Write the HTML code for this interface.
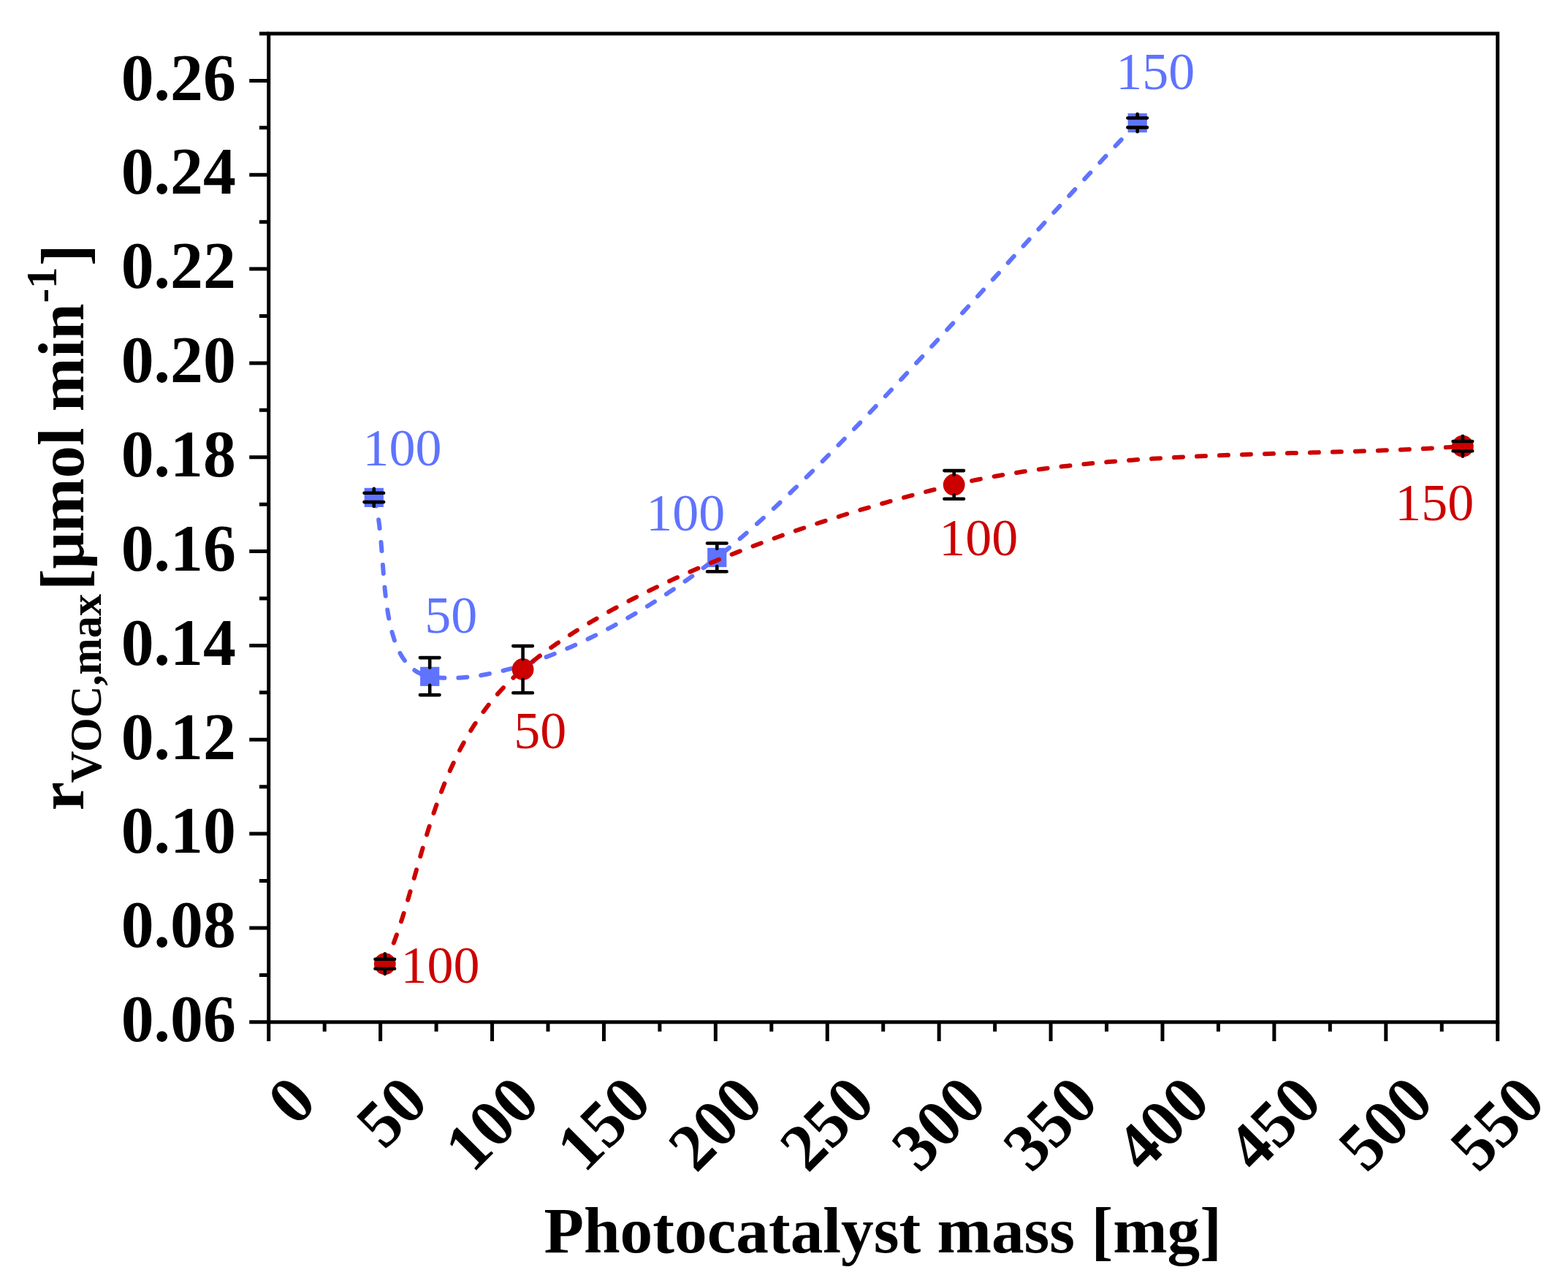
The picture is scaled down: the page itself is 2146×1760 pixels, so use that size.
<!DOCTYPE html><html><head><meta charset="utf-8"><style>html,body{margin:0;padding:0;background:#fff}svg{display:block}</style></head><body>
<svg width="2146" height="1760" viewBox="0 0 2146 1760">
<rect width="2146" height="1760" fill="#fff"/>
<path d="M511.80,680.90 L512.34,682.67 L512.85,684.48 L513.35,686.32 L513.84,688.20 L514.30,690.12 L514.75,692.07 L515.18,694.06 L515.60,696.07 L516.00,698.13 L516.39,700.21 L516.76,702.32 L517.12,704.46 L517.47,706.64 L517.80,708.84 L518.13,711.06 L518.44,713.32 L518.74,715.60 L519.03,717.90 L519.31,720.23 L519.59,722.58 L519.85,724.95 L520.11,727.34 L520.35,729.76 L520.59,732.19 L520.83,734.64 L521.06,737.11 L521.28,739.60 L521.50,742.10 L521.71,744.62 L521.92,747.15 L522.12,749.69 L522.33,752.25 L522.53,754.82 L522.72,757.40 L522.92,759.99 L523.12,762.59 L523.31,765.20 L523.51,767.82 L523.71,770.44 L523.91,773.07 L524.11,775.70 L524.31,778.34 L524.51,780.98 L524.72,783.62 L524.93,786.26 L525.15,788.91 L525.37,791.55 L525.60,794.20 L525.83,796.84 L526.07,799.48 L526.32,802.11 L526.57,804.74 L526.84,807.37 L527.11,809.99 L527.39,812.60 L527.68,815.20 L527.98,817.80 L528.29,820.38 L528.61,822.96 L528.94,825.52 L529.29,828.07 L529.65,830.61 L530.02,833.13 L530.40,835.64 L530.80,838.14 L531.22,840.61 L531.65,843.07 L532.09,845.51 L532.56,847.94 L533.04,850.34 L533.53,852.72 L534.05,855.08 L534.58,857.42 L535.13,859.73 L535.71,862.02 L536.30,864.29 L536.91,866.53 L537.55,868.74 L538.20,870.92 L538.88,873.08 L539.58,875.21 L540.30,877.30 L541.05,879.37 L541.82,881.40 L542.62,883.40 L543.44,885.37 L544.29,887.30 L545.16,889.20 L546.07,891.06 L546.99,892.88 L547.95,894.67 L548.94,896.42 L549.95,898.12 L550.99,899.79 L552.07,901.42 L553.17,903.00 L554.31,904.54 L555.47,906.04 L556.67,907.49 L557.90,908.90 L559.17,910.25 L560.47,911.57 L561.80,912.83 L563.17,914.05 L564.57,915.21 L566.01,916.33 L567.48,917.39 L568.99,918.40 L570.54,919.35 L572.13,920.26 L573.75,921.10 L575.42,921.90 L577.12,922.63 L578.86,923.31 L580.65,923.93 L582.47,924.49 L584.34,924.99 L586.25,925.42 L588.20,925.80" fill="none" stroke="#5f73ff" stroke-width="6" stroke-linecap="round" stroke-dasharray="12 19" stroke-dashoffset="0.00"/>
<path d="M588.20,925.80 L590.19,926.13 L592.21,926.44 L594.26,926.71 L596.34,926.96 L598.46,927.19 L600.60,927.38 L602.78,927.55 L604.98,927.69 L607.22,927.80 L609.48,927.89 L611.77,927.95 L614.10,927.98 L616.45,927.98 L618.83,927.96 L621.24,927.90 L623.68,927.82 L626.14,927.72 L628.64,927.58 L631.16,927.42 L633.71,927.23 L636.28,927.01 L638.88,926.76 L641.51,926.49 L644.17,926.18 L646.85,925.85 L649.56,925.49 L652.29,925.10 L655.05,924.69 L657.83,924.24 L660.64,923.77 L663.47,923.27 L666.33,922.74 L669.21,922.18 L672.12,921.60 L675.05,920.98 L678.00,920.34 L680.97,919.67 L683.97,918.97 L687.00,918.24 L690.04,917.48 L693.11,916.69 L696.19,915.87 L699.31,915.03 L702.44,914.16 L705.59,913.25 L708.76,912.32 L711.96,911.36 L715.18,910.37 L718.41,909.35 L721.67,908.30 L724.94,907.23 L728.24,906.12 L731.56,904.98 L734.89,903.82 L738.24,902.62 L741.62,901.40 L745.01,900.15 L748.42,898.86 L751.84,897.55 L755.29,896.21 L758.75,894.83 L762.23,893.43 L765.72,892.00 L769.24,890.54 L772.77,889.05 L776.31,887.53 L779.88,885.98 L783.45,884.39 L787.05,882.78 L790.66,881.14 L794.28,879.47 L797.92,877.77 L801.57,876.04 L805.24,874.28 L808.92,872.48 L812.62,870.66 L816.33,868.81 L820.05,866.93 L823.79,865.01 L827.53,863.07 L831.30,861.09 L835.07,859.09 L838.86,857.05 L842.66,854.98 L846.47,852.89 L850.29,850.76 L854.12,848.60 L857.96,846.41 L861.82,844.19 L865.68,841.94 L869.56,839.66 L873.45,837.34 L877.34,835.00 L881.25,832.62 L885.16,830.22 L889.09,827.78 L893.02,825.31 L896.96,822.81 L900.91,820.28 L904.87,817.71 L908.83,815.12 L912.81,812.49 L916.79,809.84 L920.78,807.15 L924.77,804.43 L928.77,801.67 L932.78,798.89 L936.80,796.08 L940.82,793.23 L944.84,790.35 L948.87,787.44 L952.91,784.50 L956.95,781.52 L961.00,778.51 L965.05,775.48 L969.11,772.40 L973.17,769.30 L977.23,766.17 L981.30,763.00" fill="none" stroke="#5f73ff" stroke-width="6" stroke-linecap="round" stroke-dasharray="12 19" stroke-dashoffset="270.71"/>
<path d="M981.30,763.00 L985.39,759.78 L989.51,756.49 L993.68,753.12 L997.87,749.69 L1002.11,746.19 L1006.38,742.61 L1010.68,738.98 L1015.01,735.27 L1019.38,731.50 L1023.78,727.67 L1028.22,723.77 L1032.68,719.81 L1037.18,715.80 L1041.70,711.72 L1046.25,707.58 L1050.83,703.39 L1055.44,699.14 L1060.08,694.83 L1064.74,690.47 L1069.43,686.06 L1074.15,681.60 L1078.88,677.08 L1083.65,672.52 L1088.43,667.91 L1093.24,663.25 L1098.07,658.54 L1102.93,653.79 L1107.80,648.99 L1112.69,644.15 L1117.61,639.27 L1122.54,634.35 L1127.49,629.38 L1132.46,624.38 L1137.45,619.34 L1142.45,614.27 L1147.47,609.15 L1152.50,604.01 L1157.55,598.83 L1162.61,593.62 L1167.68,588.37 L1172.77,583.10 L1177.87,577.80 L1182.98,572.47 L1188.10,567.11 L1193.23,561.73 L1198.38,556.32 L1203.53,550.89 L1208.68,545.43 L1213.85,539.96 L1219.02,534.46 L1224.20,528.95 L1229.39,523.42 L1234.58,517.87 L1239.77,512.30 L1244.97,506.72 L1250.17,501.12 L1255.38,495.52 L1260.58,489.90 L1265.79,484.27 L1271.00,478.63 L1276.21,472.98 L1281.41,467.32 L1286.62,461.66 L1291.83,456.00 L1297.03,450.32 L1302.23,444.65 L1307.42,438.98 L1312.61,433.30 L1317.80,427.62 L1322.98,421.95 L1328.15,416.28 L1333.32,410.61 L1338.48,404.94 L1343.63,399.29 L1348.77,393.63 L1353.90,387.99 L1359.02,382.36 L1364.14,376.73 L1369.24,371.12 L1374.33,365.52 L1379.40,359.93 L1384.46,354.35 L1389.51,348.80 L1394.55,343.26 L1399.57,337.73 L1404.57,332.23 L1409.56,326.74 L1414.53,321.28 L1419.48,315.84 L1424.41,310.42 L1429.33,305.02 L1434.22,299.65 L1439.10,294.31 L1443.95,288.99 L1448.79,283.71 L1453.60,278.45 L1458.39,273.22 L1463.15,268.03 L1467.89,262.86 L1472.61,257.74 L1477.30,252.64 L1481.96,247.59 L1486.60,242.57 L1491.21,237.58 L1495.80,232.64 L1500.35,227.74 L1504.88,222.88 L1509.38,218.06 L1513.84,213.29 L1518.28,208.56 L1522.68,203.88 L1527.05,199.24 L1531.39,194.66 L1535.70,190.12 L1539.97,185.63 L1544.21,181.19 L1548.41,176.81 L1552.57,172.48 L1556.70,168.20" fill="none" stroke="#5f73ff" stroke-width="6" stroke-linecap="round" stroke-dasharray="12 19" stroke-dashoffset="703.50"/>
<rect x="498.7" y="667.8" width="26.2" height="26.2" fill="#5f73ff"/>
<g stroke="#000" stroke-width="4.6" stroke-linecap="round" fill="none">
<path d="M498.5,674.7 H525.1 M498.5,687.1 H525.1 M511.8,674.7 V668.8 M511.8,687.1 V693.0"/>
</g>
<rect x="575.1" y="912.7" width="26.2" height="26.2" fill="#5f73ff"/>
<g stroke="#000" stroke-width="4.6" stroke-linecap="round" fill="none">
<path d="M574.9,900.1 H601.5 M574.9,951.1 H601.5 M588.2,900.1 V913.7 M588.2,951.1 V937.9"/>
</g>
<rect x="968.2" y="749.9" width="26.2" height="26.2" fill="#5f73ff"/>
<g stroke="#000" stroke-width="4.6" stroke-linecap="round" fill="none">
<path d="M968.0,743.5 H994.6 M968.0,782.2 H994.6 M981.3,743.5 V750.9 M981.3,782.2 V775.1"/>
</g>
<rect x="1543.6" y="155.1" width="26.2" height="26.2" fill="#5f73ff"/>
<g stroke="#000" stroke-width="4.6" stroke-linecap="round" fill="none">
<path d="M1543.4,161.5 H1570.0 M1543.4,174.4 H1570.0 M1556.7,161.5 V156.1 M1556.7,174.4 V180.3"/>
</g>
<path d="M526.80,1319.10 L528.14,1316.21 L529.46,1313.29 L530.76,1310.34 L532.04,1307.37 L533.30,1304.37 L534.55,1301.34 L535.78,1298.29 L536.99,1295.22 L538.19,1292.12 L539.37,1289.00 L540.54,1285.86 L541.70,1282.69 L542.84,1279.50 L543.97,1276.30 L545.09,1273.06 L546.19,1269.81 L547.29,1266.54 L548.38,1263.25 L549.45,1259.94 L550.52,1256.62 L551.58,1253.27 L552.64,1249.91 L553.68,1246.53 L554.72,1243.13 L555.76,1239.72 L556.79,1236.29 L557.81,1232.84 L558.83,1229.38 L559.85,1225.91 L560.87,1222.43 L561.88,1218.93 L562.89,1215.41 L563.90,1211.89 L564.91,1208.35 L565.93,1204.80 L566.94,1201.25 L567.96,1197.68 L568.97,1194.10 L569.99,1190.51 L571.02,1186.91 L572.04,1183.31 L573.08,1179.70 L574.12,1176.07 L575.16,1172.45 L576.21,1168.81 L577.27,1165.17 L578.34,1161.53 L579.41,1157.88 L580.49,1154.22 L581.59,1150.56 L582.69,1146.90 L583.81,1143.24 L584.93,1139.57 L586.07,1135.90 L587.22,1132.23 L588.39,1128.55 L589.57,1124.88 L590.76,1121.21 L591.97,1117.53 L593.19,1113.86 L594.43,1110.19 L595.69,1106.52 L596.97,1102.85 L598.26,1099.19 L599.58,1095.53 L600.91,1091.87 L602.26,1088.21 L603.63,1084.57 L605.03,1080.92 L606.45,1077.28 L607.89,1073.65 L609.35,1070.03 L610.83,1066.41 L612.35,1062.80 L613.88,1059.20 L615.44,1055.60 L617.03,1052.02 L618.65,1048.44 L620.29,1044.88 L621.96,1041.32 L623.66,1037.78 L625.39,1034.24 L627.15,1030.72 L628.94,1027.22 L630.76,1023.72 L632.61,1020.24 L634.49,1016.77 L636.41,1013.32 L638.36,1009.88 L640.35,1006.45 L642.37,1003.05 L644.43,999.65 L646.52,996.28 L648.65,992.92 L650.81,989.58 L653.02,986.26 L655.26,982.96 L657.54,979.67 L659.86,976.41 L662.23,973.17 L664.63,969.94 L667.07,966.74 L669.56,963.56 L672.09,960.40 L674.66,957.26 L677.28,954.15 L679.94,951.06 L682.65,948.00 L685.40,944.96 L688.20,941.94 L691.05,938.95 L693.95,935.99 L696.89,933.05 L699.88,930.14 L702.92,927.25 L706.02,924.40 L709.16,921.57 L712.35,918.77 L715.60,916.00" fill="none" stroke="#cc0000" stroke-width="6" stroke-linecap="round" stroke-dasharray="12 19" stroke-dashoffset="0.00"/>
<path d="M715.60,916.00 L718.90,913.25 L722.24,910.51 L725.64,907.77 L729.08,905.04 L732.57,902.32 L736.10,899.60 L739.68,896.90 L743.31,894.20 L746.98,891.51 L750.70,888.83 L754.46,886.15 L758.26,883.49 L762.11,880.83 L766.00,878.18 L769.93,875.54 L773.90,872.90 L777.91,870.28 L781.97,867.66 L786.06,865.06 L790.19,862.46 L794.36,859.87 L798.57,857.29 L802.82,854.72 L807.10,852.15 L811.42,849.60 L815.77,847.06 L820.17,844.52 L824.59,842.00 L829.05,839.49 L833.55,836.98 L838.08,834.48 L842.64,832.00 L847.23,829.52 L851.86,827.06 L856.51,824.60 L861.20,822.16 L865.92,819.72 L870.67,817.30 L875.44,814.88 L880.25,812.48 L885.08,810.09 L889.94,807.71 L894.83,805.34 L899.75,802.98 L904.69,800.63 L909.66,798.29 L914.65,795.96 L919.66,793.65 L924.70,791.34 L929.77,789.05 L934.85,786.77 L939.96,784.50 L945.09,782.24 L950.24,779.99 L955.42,777.76 L960.61,775.54 L965.82,773.33 L971.05,771.13 L976.31,768.94 L981.57,766.77 L986.86,764.61 L992.16,762.46 L997.48,760.33 L1002.82,758.20 L1008.17,756.09 L1013.54,753.99 L1018.92,751.91 L1024.32,749.84 L1029.73,747.78 L1035.15,745.73 L1040.58,743.70 L1046.03,741.68 L1051.48,739.68 L1056.95,737.69 L1062.43,735.71 L1067.92,733.74 L1073.42,731.79 L1078.92,729.86 L1084.44,727.93 L1089.96,726.03 L1095.49,724.13 L1101.03,722.25 L1106.57,720.39 L1112.11,718.53 L1117.67,716.70 L1123.22,714.87 L1128.79,713.07 L1134.35,711.27 L1139.92,709.50 L1145.49,707.73 L1151.06,705.99 L1156.63,704.25 L1162.21,702.53 L1167.78,700.83 L1173.35,699.15 L1178.93,697.47 L1184.50,695.82 L1190.07,694.18 L1195.64,692.55 L1201.20,690.94 L1206.76,689.35 L1212.32,687.77 L1217.88,686.21 L1223.42,684.67 L1228.97,683.14 L1234.50,681.63 L1240.03,680.13 L1245.56,678.65 L1251.07,677.19 L1256.58,675.75 L1262.08,674.32 L1267.57,672.90 L1273.05,671.51 L1278.52,670.13 L1283.98,668.77 L1289.43,667.43 L1294.86,666.10 L1300.29,664.79 L1305.70,663.50" fill="none" stroke="#cc0000" stroke-width="6" stroke-linecap="round" stroke-dasharray="12 19" stroke-dashoffset="447.25"/>
<path d="M1305.70,663.50 L1311.12,662.23 L1316.57,660.99 L1322.05,659.77 L1327.55,658.58 L1333.08,657.42 L1338.64,656.28 L1344.23,655.17 L1349.84,654.08 L1355.48,653.01 L1361.14,651.97 L1366.83,650.96 L1372.53,649.96 L1378.27,648.99 L1384.02,648.05 L1389.80,647.12 L1395.60,646.22 L1401.42,645.34 L1407.26,644.48 L1413.11,643.64 L1418.99,642.83 L1424.89,642.03 L1430.80,641.25 L1436.73,640.50 L1442.68,639.76 L1448.65,639.04 L1454.63,638.34 L1460.62,637.66 L1466.63,637.00 L1472.66,636.36 L1478.70,635.73 L1484.75,635.12 L1490.81,634.53 L1496.88,633.96 L1502.97,633.40 L1509.07,632.85 L1515.17,632.33 L1521.29,631.81 L1527.42,631.32 L1533.55,630.83 L1539.69,630.37 L1545.84,629.91 L1552.00,629.47 L1558.16,629.04 L1564.33,628.63 L1570.50,628.23 L1576.67,627.84 L1582.86,627.46 L1589.04,627.10 L1595.23,626.74 L1601.42,626.40 L1607.61,626.07 L1613.80,625.75 L1619.99,625.43 L1626.19,625.13 L1632.38,624.84 L1638.57,624.55 L1644.76,624.28 L1650.95,624.01 L1657.13,623.75 L1663.31,623.50 L1669.49,623.26 L1675.66,623.03 L1681.83,622.80 L1687.99,622.57 L1694.15,622.36 L1700.30,622.15 L1706.44,621.94 L1712.57,621.74 L1718.70,621.55 L1724.82,621.35 L1730.92,621.17 L1737.02,620.98 L1743.11,620.81 L1749.18,620.63 L1755.25,620.46 L1761.30,620.29 L1767.34,620.12 L1773.36,619.95 L1779.37,619.79 L1785.37,619.62 L1791.35,619.46 L1797.32,619.30 L1803.27,619.13 L1809.20,618.97 L1815.12,618.81 L1821.01,618.65 L1826.89,618.48 L1832.75,618.32 L1838.59,618.15 L1844.41,617.98 L1850.21,617.81 L1855.99,617.63 L1861.75,617.45 L1867.48,617.27 L1873.19,617.09 L1878.88,616.90 L1884.54,616.71 L1890.18,616.51 L1895.79,616.31 L1901.38,616.10 L1906.94,615.88 L1912.48,615.66 L1917.98,615.44 L1923.46,615.21 L1928.91,614.97 L1934.33,614.72 L1939.72,614.47 L1945.09,614.20 L1950.42,613.93 L1955.71,613.65 L1960.98,613.37 L1966.22,613.07 L1971.42,612.76 L1976.59,612.44 L1981.72,612.12 L1986.82,611.78 L1991.88,611.43 L1996.91,611.07 L2001.90,610.70" fill="none" stroke="#cc0000" stroke-width="6" stroke-linecap="round" stroke-dasharray="12 19" stroke-dashoffset="1090.97"/>
<circle cx="526.8" cy="1319.1" r="14.9" fill="#cc0000"/>
<g stroke="#000" stroke-width="4.6" stroke-linecap="round" fill="none">
<path d="M513.5,1312.8 H540.1 M513.5,1325.7 H540.1 M526.8,1312.8 V1305.2 M526.8,1325.7 V1333.0"/>
</g>
<circle cx="715.6" cy="916.0" r="14.9" fill="#cc0000"/>
<g stroke="#000" stroke-width="4.6" stroke-linecap="round" fill="none">
<path d="M702.3,884.1 H728.9 M702.3,948.2 H728.9 M715.6,884.1 V902.1 M715.6,948.2 V929.9"/>
</g>
<circle cx="1305.7" cy="663.5" r="14.9" fill="#cc0000"/>
<g stroke="#000" stroke-width="4.6" stroke-linecap="round" fill="none">
<path d="M1292.4,644.1 H1319.0 M1292.4,682.7 H1319.0 M1305.7,644.1 V649.6 M1305.7,682.7 V677.4"/>
</g>
<circle cx="2001.9" cy="610.7" r="14.9" fill="#cc0000"/>
<g stroke="#000" stroke-width="4.6" stroke-linecap="round" fill="none">
<path d="M1988.6,604.0 H2015.2 M1988.6,617.3 H2015.2 M2001.9,604.0 V596.8 M2001.9,617.3 V624.6"/>
</g>
<g stroke="#000" stroke-width="5" fill="none" stroke-linecap="butt">
<rect x="367.75" y="46.0" width="1681.95" height="1352.80"/>
<path d="M367.75,1398.80H341.25M367.75,1334.38H354.95M367.75,1269.96H341.25M367.75,1205.54H354.95M367.75,1141.12H341.25M367.75,1076.70H354.95M367.75,1012.28H341.25M367.75,947.86H354.95M367.75,883.44H341.25M367.75,819.02H354.95M367.75,754.60H341.25M367.75,690.18H354.95M367.75,625.76H341.25M367.75,561.34H354.95M367.75,496.92H341.25M367.75,432.50H354.95M367.75,368.08H341.25M367.75,303.66H354.95M367.75,239.24H341.25M367.75,174.82H354.95M367.75,110.40H341.25M367.75,45.98H354.95M367.75,1398.80V1425.00M444.20,1398.80V1411.70M520.65,1398.80V1425.00M597.11,1398.80V1411.70M673.56,1398.80V1425.00M750.01,1398.80V1411.70M826.47,1398.80V1425.00M902.92,1398.80V1411.70M979.37,1398.80V1425.00M1055.82,1398.80V1411.70M1132.28,1398.80V1425.00M1208.73,1398.80V1411.70M1285.18,1398.80V1425.00M1361.63,1398.80V1411.70M1438.09,1398.80V1425.00M1514.54,1398.80V1411.70M1590.99,1398.80V1425.00M1667.44,1398.80V1411.70M1743.89,1398.80V1425.00M1820.35,1398.80V1411.70M1896.80,1398.80V1425.00M1973.25,1398.80V1411.70M2049.70,1398.80V1425.00"/>
</g>
<g font-family="&quot;Liberation Serif&quot;, serif" font-weight="bold" font-size="89.8" fill="#000">
<text transform="translate(322.8,1425.0) scale(1,1.018)" text-anchor="end">0.06</text>
<text transform="translate(322.8,1296.2) scale(1,1.018)" text-anchor="end">0.08</text>
<text transform="translate(322.8,1167.3) scale(1,1.018)" text-anchor="end">0.10</text>
<text transform="translate(322.8,1038.5) scale(1,1.018)" text-anchor="end">0.12</text>
<text transform="translate(322.8,909.6) scale(1,1.018)" text-anchor="end">0.14</text>
<text transform="translate(322.8,780.8) scale(1,1.018)" text-anchor="end">0.16</text>
<text transform="translate(322.8,652.0) scale(1,1.018)" text-anchor="end">0.18</text>
<text transform="translate(322.8,523.1) scale(1,1.018)" text-anchor="end">0.20</text>
<text transform="translate(322.8,394.3) scale(1,1.018)" text-anchor="end">0.22</text>
<text transform="translate(322.8,265.4) scale(1,1.018)" text-anchor="end">0.24</text>
<text transform="translate(322.8,136.6) scale(1,1.018)" text-anchor="end">0.26</text>
<text transform="translate(436.2,1511.4) rotate(-45) scale(1,1.018)" text-anchor="end">0</text>
<text transform="translate(589.2,1511.4) rotate(-45) scale(1,1.018)" text-anchor="end">50</text>
<text transform="translate(742.1,1511.4) rotate(-45) scale(1,1.018)" text-anchor="end">100</text>
<text transform="translate(895.0,1511.4) rotate(-45) scale(1,1.018)" text-anchor="end">150</text>
<text transform="translate(1047.9,1511.4) rotate(-45) scale(1,1.018)" text-anchor="end">200</text>
<text transform="translate(1200.8,1511.4) rotate(-45) scale(1,1.018)" text-anchor="end">250</text>
<text transform="translate(1353.7,1511.4) rotate(-45) scale(1,1.018)" text-anchor="end">300</text>
<text transform="translate(1506.6,1511.4) rotate(-45) scale(1,1.018)" text-anchor="end">350</text>
<text transform="translate(1659.5,1511.4) rotate(-45) scale(1,1.018)" text-anchor="end">400</text>
<text transform="translate(1812.4,1511.4) rotate(-45) scale(1,1.018)" text-anchor="end">450</text>
<text transform="translate(1965.3,1511.4) rotate(-45) scale(1,1.018)" text-anchor="end">500</text>
<text transform="translate(2118.2,1511.4) rotate(-45) scale(1,1.018)" text-anchor="end">550</text>
<text x="744.4" y="1714.4" font-size="89.3">Photocatalyst mass [mg]</text>
<text transform="translate(113.6,1109.5) rotate(-90)" font-size="89">r</text>
<text transform="translate(138.4,1071.6) rotate(-90)" font-size="60.4">VOC,max</text>
<text transform="translate(117.3,808.1) rotate(-90)" font-size="88.7">[</text>
<text transform="translate(113.7,778.56) rotate(-90)" font-size="88.7">μmol min</text>
<text transform="translate(76.6,414.6) rotate(-90)" font-size="59.1">-1</text>
<text transform="translate(117.6,364.1) rotate(-90)" font-size="89">]</text>
</g>
<g font-family="&quot;Liberation Serif&quot;, serif" font-size="72">
<text x="496.4" y="636.9" fill="#5f73ff">100</text>
<text x="581.3" y="866.4" fill="#5f73ff">50</text>
<text x="884.2" y="726.3" fill="#5f73ff">100</text>
<text x="1527.3" y="122.2" fill="#5f73ff">150</text>
<text x="548.5" y="1345.0" fill="#cc0000">100</text>
<text x="703.3" y="1023.5" fill="#cc0000">50</text>
<text x="1285.3" y="760.3" fill="#cc0000">100</text>
<text x="1909.3" y="711.8" fill="#cc0000">150</text>
</g>
</svg></body></html>
